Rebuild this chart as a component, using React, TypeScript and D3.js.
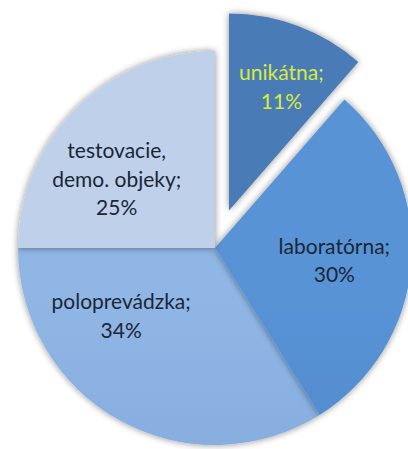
import React from "react";
import * as d3 from "d3";

const categories = ["unikátna", "laboratórna", "poloprevádzka", "testovacie, demo. objeky"];
const labelLines = [["unikátna;"], ["laboratórna;"], ["poloprevádzka;"], ["testovacie,", "demo. objeky;"]];
const values = [11.4, 29.7, 33.9, 25.0];

const W = 408;
const H = 449;
const CX = 215;
const CY = 248;
const R = 197;
const EXPLODE = [40, 0, 0, 0];
const TOP_COLORS = ["#4a7bb6", "#5893d6", "#90b6e5", "#bfd1ea"];
const BOTTOM_COLORS = ["#3a6aa5", "#4781c4", "#77a1d6", "#aac0e0"];
const TEXT_COLORS = ["#d8ea3e", "#1b2637", "#1b2637", "#1b2637"];
const LABEL_R = [134, 120, 116, 120];
const LABEL_NUDGE_DEG = [2.5, 1.5, 25, -10];
const FONT = 21;
const LINE_H = 28.5;

export default function App() {
  const total = d3.sum(values);
  const pie = d3.pie<number>().sort(null).value((d) => d)(values);
  const arc = d3.arc<d3.PieArcDatum<number>>().innerRadius(0).outerRadius(R);

  return (
    <svg
      width={W}
      height={H}
      style={{ position: "absolute", left: 0, top: 0, background: "#fff" }}
      fontFamily="Lato, 'Open Sans', sans-serif"
    >
      <defs>
        <filter id="sh" x="-20%" y="-20%" width="140%" height="140%">
          <feGaussianBlur in="SourceAlpha" stdDeviation="3.5" />
          <feOffset dx="0" dy="0" result="b" />
          <feComponentTransfer>
            <feFuncA type="linear" slope="0.45" />
          </feComponentTransfer>
          <feMerge>
            <feMergeNode />
            <feMergeNode in="SourceGraphic" />
          </feMerge>
        </filter>
        {pie.map((p, i) => (
          <linearGradient key={i} id={`g${i}`} gradientUnits="userSpaceOnUse" x1="0" y1={CY - R} x2="0" y2={CY + R}>
            <stop offset="0" stopColor={TOP_COLORS[i]} />
            <stop offset="1" stopColor={BOTTOM_COLORS[i]} />
          </linearGradient>
        ))}
      </defs>
      {[2, 1, 3, 0].map((i) => {
        const p = pie[i];
        const mid = (p.startAngle + p.endAngle) / 2;
        const dx = Math.sin(mid) * EXPLODE[i];
        const dy = -Math.cos(mid) * EXPLODE[i];
        return (
          <path
            key={i}
            d={arc(p) || ""}
            transform={`translate(${CX + dx},${CY + dy})`}
            fill={`url(#g${i})`}
            filter="url(#sh)"
          />
        );
      })}
      {pie.map((p, i) => {
        const mid = (p.startAngle + p.endAngle) / 2;
        const ox = CX + Math.sin(mid) * EXPLODE[i];
        const oy = CY - Math.cos(mid) * EXPLODE[i];
        const a = mid + (LABEL_NUDGE_DEG[i] * Math.PI) / 180;
        const lx = ox + Math.sin(a) * LABEL_R[i];
        const ly = oy - Math.cos(a) * LABEL_R[i];
        const lines = [...labelLines[i], `${Math.round((values[i] / total) * 100)}%`];
        const n = lines.length;
        const firstBaseline = ly - ((n - 1) * LINE_H) / 2 + FONT * 0.35;
        return (
          <text
            key={`t${i}`}
            textAnchor="middle"
            fontSize={FONT}
            fill={TEXT_COLORS[i]}
            aria-label={categories[i]}
          >
            {lines.map((ln, j) => (
              <tspan key={j} x={lx} y={firstBaseline + j * LINE_H}>
                {ln}
              </tspan>
            ))}
          </text>
        );
      })}
    </svg>
  );
}
